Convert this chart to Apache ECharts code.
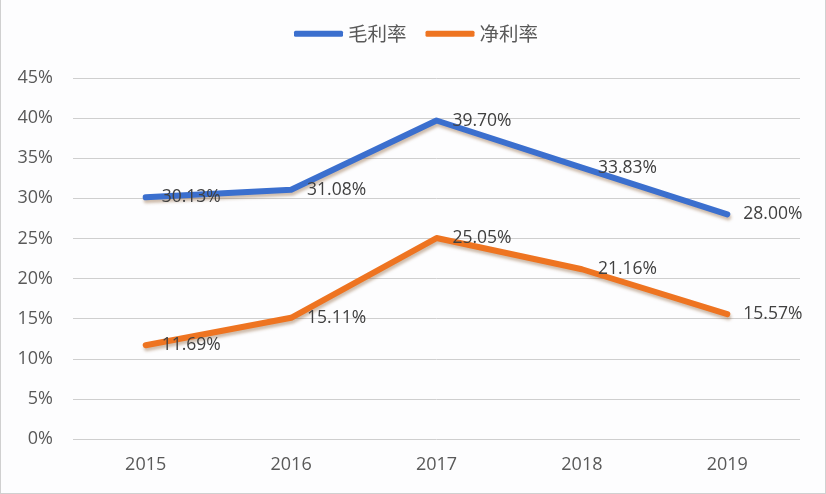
<!DOCTYPE html>
<html><head><meta charset="utf-8">
<script src="https://cdn.jsdelivr.net/npm/echarts@6/dist/echarts.min.js"></script>
<style>html,body{margin:0;padding:0;background:#fff}#c{width:826px;height:494px;box-sizing:border-box;border:1px solid #d0d0d0;border-top:none;background:#fdfdfe}</style>
</head><body><div id="c"></div>
<script>
const categories = ['2015','2016','2017','2018','2019'];
const grossMargin = [30.13, 31.08, 39.70, 33.83, 28.00];
const netMargin = [11.69, 15.11, 25.05, 21.16, 15.57];
const seriesNames = ['毛利率','净利率'];

const chart = echarts.init(document.getElementById('c'), null, {renderer:'canvas'});
const font = '"Noto Sans CJK SC", "Open Sans", sans-serif';
function lineSeries(name, data, color){
  return {
    name, type:'line', data, symbol:'circle', symbolSize:0, showSymbol:true, smooth:false,
    lineStyle:{width:6, color, shadowColor:'rgba(120,70,20,0.35)', shadowBlur:3, shadowOffsetX:1, shadowOffsetY:3, cap:'round', join:'round'},
    itemStyle:{color},
    labelLayout:{hideOverlap:false},
    label:{show:true, position:'right', distance:16, offset:[0,3], color:'#404040', fontSize:17.5, fontFamily:'"Open Sans", sans-serif',
      formatter:p=>p.value.toFixed(2)+'%'}
  };
}
chart.setOption({
  animation:false,
  legend:{top:19, left:288, itemWidth:49, itemHeight:6, itemGap:19,
    textStyle:{color:'#595959', fontSize:19.5, fontFamily:font},
    data:[{name:'毛利率', icon:'roundRect'},{name:'净利率', icon:'roundRect'}]},
  grid:{left:72, right:25, top:78, bottom:54},
  xAxis:{type:'category', data:categories, boundaryGap:true,
    axisLine:{show:false}, axisTick:{show:false},
    axisLabel:{color:'#595959', fontSize:18, margin:17, fontFamily:'"Open Sans", sans-serif'}},
  yAxis:{type:'value', min:0, max:45, interval:5,
    axisLine:{show:false}, axisTick:{show:false},
    splitLine:{lineStyle:{color:'#cfcfcf', width:1}},
    axisLabel:{color:'#595959', fontSize:18, margin:20, formatter:'{value}%', fontFamily:'"Open Sans", sans-serif'}},
  series:[lineSeries(seriesNames[0], grossMargin, '#3b6fce'), lineSeries(seriesNames[1], netMargin, '#ee7421')]
});
</script></body></html>
